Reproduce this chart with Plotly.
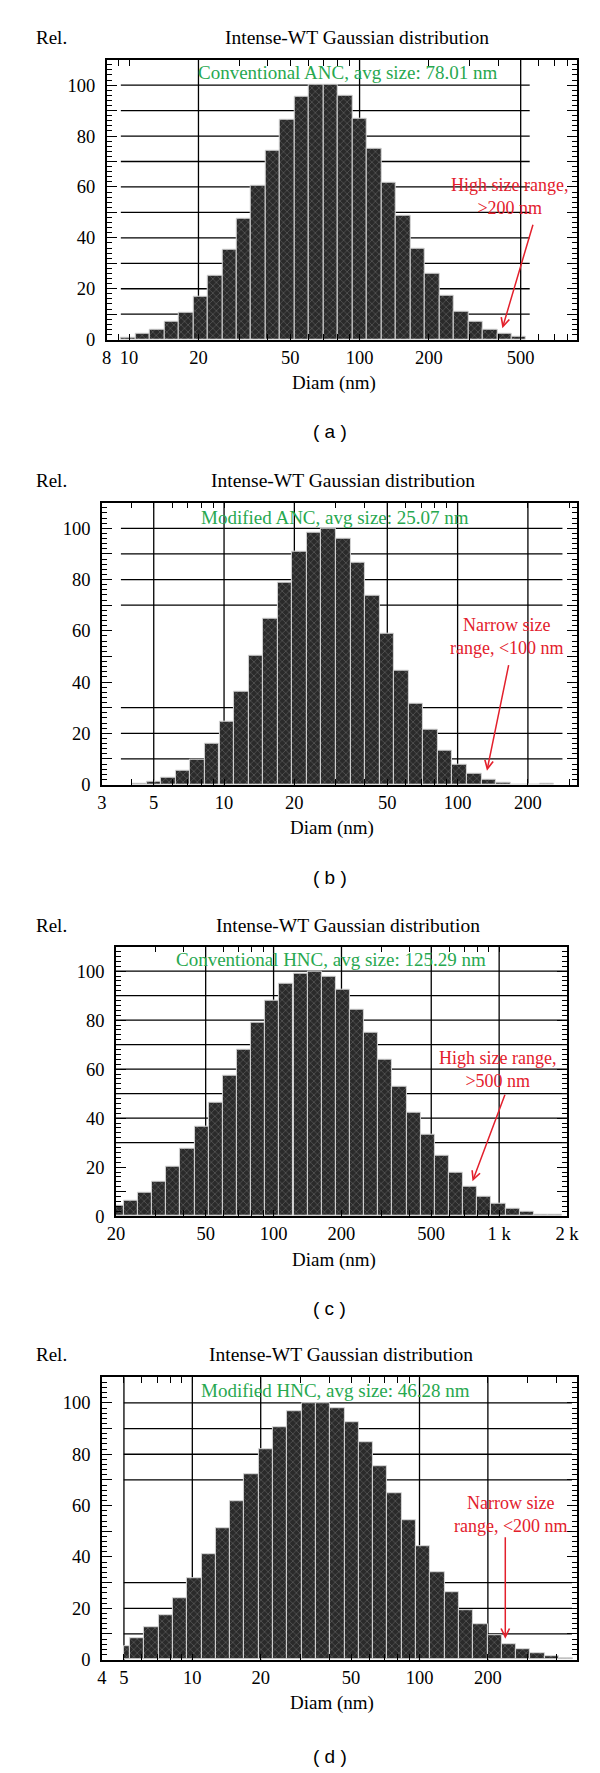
import numpy as np
import plotly.graph_objects as go

# ---------------- data ----------------
diam_a = [9.91, 11.45, 13.23, 15.29, 17.67, 20.42, 23.60, 27.27, 31.51, 36.41, 42.07, 48.62, 56.18, 64.92,
          75.02, 86.70, 100.2, 115.8, 133.8, 154.6, 178.6, 206.4, 238.5, 275.6, 318.5, 368.1, 425.4, 491.5]
rel_a = [0.9, 2.2, 3.9, 6.9, 10.7, 16.8, 25.2, 35.2, 47.6, 60.5, 74.2, 86.4, 95.3, 100,
         100, 95.7, 86.8, 75.1, 61.5, 48.6, 35.9, 25.8, 17.3, 11.0, 7.2, 3.9, 2.2, 1.2]

diam_b = [4.34, 5.01, 5.78, 6.67, 7.70, 8.89, 10.27, 11.85, 13.68, 15.79, 18.23, 21.04, 24.29, 28.04, 32.36,
          37.36, 43.12, 49.77, 57.45, 66.31, 76.56, 88.39, 102.0, 117.8, 135.9, 156.9, 181.1, 209.1, 241.4]
rel_b = [0.4, 1.0, 2.8, 5.3, 9.8, 16.0, 24.5, 36.1, 50.3, 64.8, 78.7, 90.8, 98.3, 100, 96.0,
         86.6, 73.9, 58.8, 44.4, 31.4, 21.3, 13.2, 7.6, 4.1, 2.1, 0.8, 0, 0, 0.5]

diam_c = [20.15, 23.27, 26.89, 31.07, 35.89, 41.47, 47.91, 55.34, 63.93, 73.86, 85.33, 98.58, 113.9, 131.6,
          152.0, 175.6, 202.9, 234.4, 270.7, 312.8, 361.4, 417.5, 482.3, 557.2, 643.8, 743.8, 859.3, 992.7,
          1147, 1325, 1531, 1769]
rel_c = [4.1, 6.3, 9.6, 14.2, 20.0, 27.6, 36.4, 46.4, 57.2, 68.1, 78.8, 87.8, 94.8, 98.8,
         99.7, 97.7, 92.3, 84.4, 74.9, 63.9, 53.0, 42.3, 33.1, 24.5, 17.7, 12.2, 8.1, 5.1,
         3.1, 1.8, 0.8, 0.4]

diam_d = [4.94, 5.71, 6.60, 7.63, 8.82, 10.20, 11.79, 13.63, 15.76, 18.21, 21.05, 24.34, 28.13, 32.52,
          37.60, 43.46, 50.24, 58.07, 67.14, 77.61, 89.73, 103.7, 119.9, 138.6, 160.2, 185.2, 214.1, 247.5,
          286.1, 330.7, 382.3, 442.0]
rel_d = [5.4, 8.3, 12.5, 17.3, 24.0, 31.9, 41.0, 51.0, 61.8, 72.2, 82.1, 90.5, 96.7, 99.9,
         100, 98.0, 92.5, 84.6, 75.2, 64.8, 54.2, 44.1, 34.1, 26.1, 19.2, 13.7, 9.6, 6.1,
         3.9, 2.3, 1.3, 0.5]

ticks_a = [8, 10, 20, 50, 100, 200, 500]
ticks_b = [3, 5, 10, 20, 50, 100, 200]
ticks_c = [20, 50, 100, 200, 500, 1000, 2000]
ticks_d = [4, 5, 10, 20, 50, 100, 200]
labels_a = ["8", "10", "20", "50", "100", "200", "500"]
labels_b = ["3", "5", "10", "20", "50", "100", "200"]
labels_c = ["20", "50", "100", "200", "500", "1 k", "2 k"]
labels_d = ["4", "5", "10", "20", "50", "100", "200"]

vgrid_a = [20, 100, 500]
vgrid_b = [5, 10, 20, 50, 100, 200]
vgrid_c = [50, 100, 200, 500, 1000]
vgrid_d = [5, 10, 20, 100, 200]

hgrid_a = [10, 20, 30, 40, 50, 60, 70, 80, 90, 100]
hgrid_b = [10, 20, 30, 70, 80, 90, 100]
hgrid_c = [30, 40, 50, 60, 70, 80, 90, 100]
hgrid_d = [10, 20, 30, 70, 80, 90, 100]

green_texts = ["Conventional ANC, avg size: 78.01 nm", "Modified ANC, avg size: 25.07 nm",
               "Conventional HNC, avg size: 125.29 nm", "Modified HNC, avg size: 46.28 nm"]
red_texts = ["High size range,<br>>200 nm", "Narrow size<br>range, <100 nm",
             "High size range,<br>>500 nm", "Narrow size<br>range, <200 nm"]
panel_tags = ["( a )", "( b )", "( c )", "( d )"]

# ---------------- layout geometry (pixels) ----------------
W, H = 600, 1773
panels = [
    dict(d=diam_a, r=rel_a, ticks=ticks_a, labels=labels_a, vg=vgrid_a, hg=hgrid_a, hx=(0.03, 0.90),
         xr=(8, 875), box=(93, 580, 52, 333.5), floor=None, title_x=352,
         title_y=30, tag_y=426, green=(342, 65), red=(510, 190), arrow=((503, 322), (534, 217))),
    dict(d=diam_b, r=rel_b, ticks=ticks_b, labels=labels_b, vg=vgrid_b, hg=hgrid_b, hx=(0.04, 0.97),
         xr=(3, 323.5), box=(88, 580, 497.5, 781), floor=None, title_x=338,
         title_y=475, tag_y=874, green=(330, 512), red=(508, 632), arrow=((487, 767), (509, 660))),
    dict(d=diam_c, r=rel_c, ticks=ticks_c, labels=labels_c, vg=vgrid_c, hg=hgrid_c, hx=(0.0, 1.0),
         xr=(20, 2000), box=(102.5, 570, 944, 1215), floor=None, title_x=343,
         title_y=923, tag_y=1308, green=(325, 957), red=(498, 1068), arrow=((472, 1180), (505, 1092))),
    dict(d=diam_d, r=rel_d, ticks=ticks_d, labels=labels_d, vg=vgrid_d, hg=hgrid_d, hx=(0.046, 0.99),
         xr=(4, 492), box=(88, 580, 1377, 1661), floor=5, title_x=336,
         title_y=1354, tag_y=1758, green=(330, 1390), red=(512, 1515), arrow=((506, 1640), (506, 1537))),
]

SERIF = "Liberation Serif"
GREEN = "#27a84f"
RED = "#e3202c"


def P(x, y):
    return x / W, 1 - y / H


def minor_ticks(lo, hi):
    out = []
    for dec in range(-1, 5):
        for m in range(1, 10):
            v = m * 10 ** dec
            if lo <= v <= hi:
                out.append(v)
    return out


fig = go.Figure()
annotations = []
shapes = []

for i, p in enumerate(panels, start=1):
    xs = "" if i == 1 else str(i)
    L, R, T, B = p["box"]
    lc = np.log10(np.array(p["d"], dtype=float))
    half = np.mean(np.diff(lc)) / 2
    left = lc - half
    right = lc + half
    if p["floor"] is not None:
        left = np.maximum(left, np.log10(p["floor"]))
    fig.add_trace(go.Bar(
        x=left, y=p["r"], width=right - left, offset=0,
        xaxis="x" + xs, yaxis="y" + xs,
        marker=dict(color="#2c2c2c",
                    line=dict(color="#d6d6d6", width=1),
                    pattern=dict(shape="x", fgcolor="#a0a0a0", bgcolor="#2a2a2a", size=5, solidity=0.22)),
        showlegend=False, hoverinfo="skip"))

    lo, hi = p["xr"]
    mt = minor_ticks(lo, hi)
    allt = sorted(set(mt) | set(p["ticks"]))
    txt = [p["labels"][p["ticks"].index(v)] if v in p["ticks"] else "" for v in allt]
    x0, y0 = P(L, B)
    x1, y1 = P(R, T)
    fig.layout["xaxis" + xs] = dict(
        domain=[x0, x1], anchor="y" + xs, range=[np.log10(lo), np.log10(hi)],
        tickmode="array", tickvals=list(np.log10(allt)), ticktext=txt,
        ticks="inside", ticklen=6, tickwidth=1.2, tickcolor="black",
        showline=True, linecolor="black", linewidth=1.6, mirror="allticks",
        showgrid=False, zeroline=False, ticklabelstandoff=0,
        tickfont=dict(family=SERIF, size=18.5, color="black"))
    fig.layout["yaxis" + xs] = dict(
        domain=[y0, y1], anchor="x" + xs, range=[0, 110],
        tickmode="array", tickvals=list(range(0, 101, 10)),
        ticktext=[str(v) if v % 20 == 0 else "" for v in range(0, 101, 10)],
        ticks="inside", ticklen=10, tickwidth=1.2, tickcolor="black",
        minor=dict(dtick=2, ticks="inside", ticklen=5, tickwidth=1, tickcolor="black"),
        showline=True, linecolor="black", linewidth=1.6, mirror="allticks",
        showgrid=False, zeroline=False, ticklabelstandoff=6,
        tickfont=dict(family=SERIF, size=18.5, color="black"))

    for v in p["vg"]:
        shapes.append(dict(type="line", xref="x" + xs, yref="y" + xs + " domain",
                           x0=np.log10(v), x1=np.log10(v), y0=0, y1=1,
                           line=dict(color="black", width=1.3), layer="below"))
    for v in p["hg"]:
        shapes.append(dict(type="line", xref="x" + xs + " domain", yref="y" + xs,
                           x0=p["hx"][0], x1=p["hx"][1], y0=v, y1=v,
                           line=dict(color="black", width=1.3), layer="below"))

    cx = (L + R) / 2
    for (tx, ty, t, fam, sz, col) in [
        (p["title_x"], p["title_y"], "Intense-WT Gaussian distribution", SERIF, 19.5, "black"),
        (36, p["title_y"], "Rel.", SERIF, 19, "black"),
        (cx - 8, B + 44, "Diam (nm)", SERIF, 19, "black"),
        (324, p["tag_y"], panel_tags[i - 1], "Liberation Sans", 19, "black"),
        (p["green"][0], p["green"][1], green_texts[i - 1], SERIF, 19, GREEN),
        (p["red"][0], p["red"][1], red_texts[i - 1], SERIF, 18, RED),
    ]:
        ax_, ay_ = P(tx, ty)
        annotations.append(dict(x=ax_, y=ay_, xref="paper", yref="paper", text=t, showarrow=False,
                                xanchor="center", yanchor="middle",
                                font=dict(family=fam, size=sz, color=col)))
    (hx_, hy_), (tx_, ty_) = p["arrow"]
    ax_, ay_ = P(hx_, hy_)
    annotations.append(dict(x=ax_, y=ay_, xref="paper", yref="paper", text="", showarrow=True,
                            ax=tx_ - hx_, ay=ty_ - hy_, axref="pixel", ayref="pixel",
                            arrowhead=5, arrowsize=1.1, arrowwidth=1.5, arrowcolor=RED))

fig.update_layout(width=W, height=H, margin=dict(l=0, r=0, t=0, b=0),
                  paper_bgcolor="white", plot_bgcolor="white",
                  annotations=annotations, shapes=shapes, bargap=0)
fig.write_html("out.html")
